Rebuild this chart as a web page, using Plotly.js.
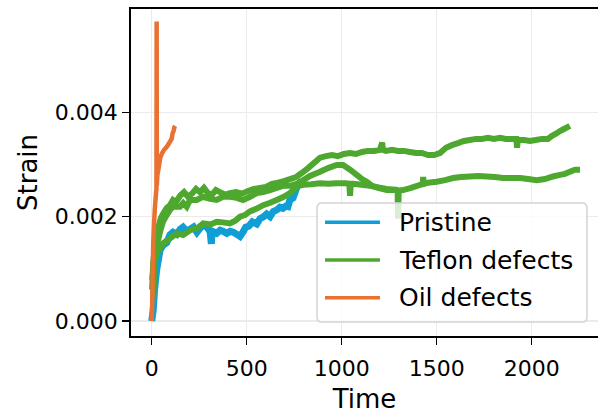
<!DOCTYPE html>
<html>
<head>
<meta charset="utf-8">
<script src="https://cdn.plot.ly/plotly-3.0.1.min.js"></script>
<style>
  html, body { margin: 0; padding: 0; background: #ffffff; }
  #chart { width: 598px; height: 414px; }
</style>
</head>
<body>
<div id="chart"></div>
<script>
// Creep test: strain vs. time for three specimen conditions.

// Pristine specimen
const pristineTime = [0, 4, 8, 15, 26, 44, 59, 79, 96, 112, 132, 150, 165, 185, 202, 220, 238, 255, 270, 290,
  307, 314, 318, 330, 342, 360, 375, 395, 412, 430, 449, 465, 480, 495, 512, 530, 553, 570, 586, 605,
  623, 640, 659, 675, 691, 705, 717, 727, 744, 765, 780, 791];
const pristineStrain = [0, 0.0001, 0.00021, 0.0006, 0.00098, 0.00136, 0.00145, 0.0015, 0.00165, 0.0017, 0.00166, 0.00176, 0.0018, 0.00172, 0.00176, 0.0018, 0.0017, 0.00178, 0.00184, 0.0018,
  0.00172, 0.00148, 0.00172, 0.0017, 0.00168, 0.00174, 0.00172, 0.00168, 0.00172, 0.0017, 0.00166, 0.00162, 0.0017, 0.0018, 0.00182, 0.0019, 0.00186, 0.00196, 0.00199, 0.00205,
  0.002, 0.0021, 0.00213, 0.00218, 0.00216, 0.0022, 0.00219, 0.00232, 0.00236, 0.00257, 0.00264, 0.0027];

// Teflon-defect specimens, run 1
const teflon1Time = [2, 8, 20, 33, 49, 65, 80, 96, 112, 128, 149, 170, 191, 212, 233, 254, 275, 296, 317, 338,
  359, 386, 412, 444, 475, 507, 538, 570, 602, 633, 665, 696, 728, 760, 791, 823, 854, 886, 917, 949,
  980, 1012, 1043, 1075, 1107, 1138, 1170, 1201, 1213, 1217, 1233, 1265, 1296, 1328, 1359, 1391, 1422, 1454, 1486, 1517,
  1549, 1580, 1612, 1643, 1675, 1707, 1738, 1770, 1801, 1833, 1864, 1896, 1919, 1923, 1927, 1959, 1991, 2022, 2054, 2085,
  2107, 2128, 2149, 2170, 2191, 2201];
const teflon1Strain = [0.0006, 0.00113, 0.00155, 0.00178, 0.00198, 0.00209, 0.00217, 0.00222, 0.00232, 0.00228, 0.0024, 0.00247, 0.00238, 0.00244, 0.00253, 0.00247, 0.00255, 0.00245, 0.00242, 0.00251,
  0.00247, 0.00242, 0.00245, 0.00247, 0.00244, 0.00249, 0.00253, 0.00255, 0.00257, 0.00263, 0.00265, 0.00268, 0.00272, 0.00276, 0.00284, 0.00293, 0.00303, 0.00313, 0.00316, 0.00318,
  0.00316, 0.0032, 0.00322, 0.0032, 0.00324, 0.00326, 0.00326, 0.00328, 0.00342, 0.00328, 0.00326, 0.00328, 0.00326, 0.00326, 0.00324, 0.00322, 0.00322, 0.00318, 0.00318, 0.00322,
  0.00332, 0.00337, 0.00341, 0.00345, 0.00347, 0.00349, 0.00349, 0.00351, 0.00349, 0.00351, 0.00349, 0.00349, 0.00349, 0.00332, 0.00347, 0.00347, 0.00345, 0.00347, 0.00349, 0.00349,
  0.00355, 0.00359, 0.00364, 0.00368, 0.00372, 0.00374];

// Teflon-defect specimens, run 2
const teflon2Time = [3, 15, 28, 44, 59, 79, 96, 112, 132, 149, 166, 184, 202, 237, 270, 307, 342, 375, 412, 447,
  481, 518, 553, 586, 623, 658, 691, 728, 763, 798, 833, 886, 928, 974, 1007, 1044, 1079, 1107, 1132, 1160,
  1191, 1237, 1281, 1294, 1297, 1300, 1323, 1365, 1412, 1426, 1429, 1432, 1454, 1500, 1544, 1586, 1628, 1675, 1718, 1763,
  1807, 1849, 1891, 1938, 1981, 2026, 2070, 2112, 2149, 2175, 2201, 2228, 2254];
const teflon2Strain = [0.00079, 0.00125, 0.00146, 0.00171, 0.0019, 0.00203, 0.00213, 0.00219, 0.00219, 0.00219, 0.00226, 0.00219, 0.00232, 0.00232, 0.00238, 0.00234, 0.00232, 0.00238, 0.00238, 0.00236,
  0.00232, 0.00238, 0.00245, 0.00247, 0.00251, 0.00255, 0.00259, 0.00259, 0.00263, 0.0027, 0.00278, 0.00286, 0.00293, 0.00299, 0.00299, 0.0029, 0.0028, 0.00272, 0.00267, 0.00259,
  0.00255, 0.00251, 0.00251, 0.0025, 0.00196, 0.0025, 0.00251, 0.00255, 0.00261, 0.00262, 0.00276, 0.00263, 0.00265, 0.00267, 0.0027, 0.00274, 0.00276, 0.00277, 0.00278, 0.00277,
  0.00276, 0.00274, 0.00274, 0.00274, 0.00272, 0.0027, 0.00272, 0.00277, 0.0028, 0.00282, 0.00286, 0.0029, 0.0029];

// Teflon-defect specimens, run 3
const teflon3Time = [7, 17, 35, 61, 95, 132, 165, 202, 240, 272, 310, 342, 375, 412, 440, 465, 490, 517, 550, 587,
  620, 658, 695, 728, 763, 798, 840, 886, 930, 974, 1018, 1040, 1044, 1048, 1061, 1105, 1149, 1193, 1237, 1270, 1296];
const teflon3Strain = [0.0004, 0.00117, 0.00135, 0.00149, 0.00158, 0.00168, 0.00165, 0.00174, 0.00178, 0.00187, 0.00185, 0.0019, 0.00189, 0.00187, 0.00192, 0.002, 0.00203, 0.0021, 0.00215, 0.00222,
  0.00226, 0.00232, 0.00238, 0.00245, 0.00258, 0.00261, 0.00262, 0.00264, 0.00263, 0.00264, 0.00264, 0.00263, 0.0024, 0.00263, 0.00263, 0.00261, 0.00259, 0.00256, 0.00253, 0.00252, 0.00251];

// Oil-defect specimen
const oilTime = [0, 3, 5, 8, 12, 16, 20, 24, 25, 26, 27, 30, 35, 45, 55, 65, 75, 85, 95, 105, 110, 115, 120, 123];
const oilStrain = [0, 0.0004, 0.00079, 0.0015, 0.00184, 0.00213, 0.00232, 0.00251, 0.0025, 0.00574, 0.0026, 0.0028, 0.0029, 0.00313, 0.00322, 0.00328, 0.00332, 0.00337, 0.00343, 0.00349, 0.0036, 0.00364, 0.00372, 0.00374];

const seriesNames = ['Pristine', 'Teflon defects', 'Oil defects'];
const seriesColors = ['#0F9ED5', '#4EA72E', '#E97132'];

const xTicks = [0, 500, 1000, 1500, 2000];
const yTicks = [0, 0.002, 0.004];
const yTickText = ['0.000', '0.002', '0.004'];

// Plot-area geometry in pixels
const W = 598, H = 414;
const M = { l: 131, r: 0, t: 9, b: 78 };
const plotW = W - M.l - M.r, plotH = H - M.t - M.b;
const px = x => (x - M.l) / plotW;
const py = y => (H - M.b - y) / plotH;

function line(x, y, color, width, name) {
  return { type: 'scatter', mode: 'lines', x: x, y: y, name: name, showlegend: false,
           line: { color: color, width: width, simplify: false }, hoverinfo: 'skip' };
}

const traces = [
  line(pristineTime, pristineStrain, seriesColors[0], 7, seriesNames[0]),
  line(teflon3Time, teflon3Strain, seriesColors[1], 6, seriesNames[1]),
  line(teflon2Time, teflon2Strain, seriesColors[1], 6, seriesNames[1]),
  line(teflon1Time, teflon1Strain, seriesColors[1], 6, seriesNames[1]),
  line(oilTime, oilStrain, seriesColors[2], 4.5, seriesNames[2])
];

// Legend box (rounded, semi-transparent) with line samples and labels
const box = { x0: 317, x1: 587, y0: 203, y1: 322, r: 5 };
const bx0 = px(box.x0), bx1 = px(box.x1), byT = py(box.y0), byB = py(box.y1);
const rx = box.r / plotW, ry = box.r / plotH;
const boxPath = `M ${bx0 + rx},${byB} L ${bx1 - rx},${byB} Q ${bx1},${byB} ${bx1},${byB + ry} ` +
  `L ${bx1},${byT - ry} Q ${bx1},${byT} ${bx1 - rx},${byT} L ${bx0 + rx},${byT} ` +
  `Q ${bx0},${byT} ${bx0},${byT - ry} L ${bx0},${byB + ry} Q ${bx0},${byB} ${bx0 + rx},${byB} Z`;

const entryY = [222.3, 260, 297.7];
const shapes = [{
  type: 'path', xref: 'paper', yref: 'paper', path: boxPath, layer: 'above',
  fillcolor: 'rgba(255,255,255,0.8)', line: { color: '#d4d4d4', width: 1.5 }
}];
const annotations = [];
seriesNames.forEach((name, i) => {
  shapes.push({ type: 'line', xref: 'paper', yref: 'paper', layer: 'above',
    x0: px(325), x1: px(380), y0: py(entryY[i]), y1: py(entryY[i]),
    line: { color: seriesColors[i], width: 3.5 } });
  annotations.push({ xref: 'paper', yref: 'paper', x: px(397), y: py(entryY[i]),
    xanchor: 'left', yanchor: 'middle', showarrow: false, text: name,
    font: { family: 'DejaVu Sans', size: 25, color: '#000000' } });
});

const axisCommon = {
  ticks: 'outside', ticklen: 7, tickwidth: 1.5, tickcolor: '#000000',
  showline: true, linecolor: '#000000', linewidth: 1.8,
  showgrid: true, gridcolor: '#ebebeb', gridwidth: 1.5, zeroline: false,
  tickfont: { family: 'DejaVu Sans', size: 22, color: '#000000' }
};

const layout = {
  width: W, height: H, margin: Object.assign({ pad: 0 }, M),
  paper_bgcolor: '#ffffff', plot_bgcolor: '#ffffff',
  font: { family: 'DejaVu Sans', color: '#000000' },
  showlegend: false,
  xaxis: Object.assign({}, axisCommon, {
    range: [-109, 2349], tickmode: 'array', tickvals: xTicks, mirror: true, ticklabelstandoff: 5,
    title: { text: 'Time', font: { family: 'DejaVu Sans', size: 26, color: '#000000' }, standoff: 12 }
  }),
  yaxis: Object.assign({}, axisCommon, {
    range: [-0.000288, 0.00598], tickmode: 'array', tickvals: yTicks, ticktext: yTickText, mirror: false,
    title: { text: 'Strain', font: { family: 'DejaVu Sans', size: 26, color: '#000000' }, standoff: 10 }
  }),
  shapes: shapes,
  annotations: annotations
};

Plotly.newPlot('chart', traces, layout, { staticPlot: true, displayModeBar: false });
</script>
</body>
</html>
